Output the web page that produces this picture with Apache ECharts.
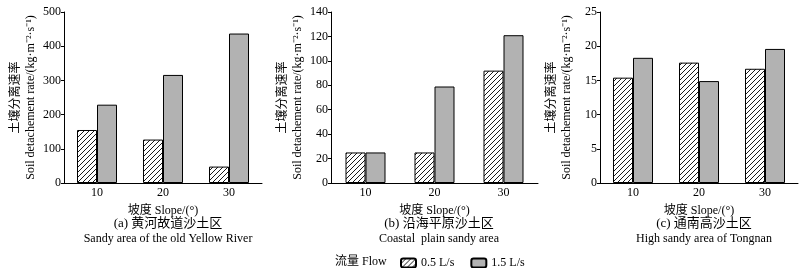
<!DOCTYPE html>
<html>
<head>
<meta charset="utf-8">
<script src="https://cdn.jsdelivr.net/npm/echarts@6/dist/echarts.min.js"></script>
<style>
  html, body { margin: 0; padding: 0; background: #fff; }
  #chart { width: 805px; height: 268px; }
</style>
</head>
<body>
<div id="chart"></div>
<script>
const slopes = ['10', '20', '30'];
const seriesNames = ['0.5 L/s', '1.5 L/s'];

// (a) 黄河故道沙土区
const yellowRiverLow = [155, 127, 48];
const yellowRiverHigh = [229, 316, 437];
// (b) 沿海平原沙土区
const coastalLow = [25, 25, 92];
const coastalHigh = [25, 79, 121];
// (c) 通南高沙土区
const tongnanLow = [15.4, 17.6, 16.7];
const tongnanHigh = [18.3, 14.9, 19.6];

const yMax = [500, 140, 25];
const yStep = [100, 20, 5];

const panelTitles = ['(a) 黄河故道沙土区', '(b) 沿海平原沙土区', '(c) 通南高沙土区'];
const panelSubtitles = ['Sandy area of the old Yellow River', 'Coastal  plain sandy area', 'High sandy area of Tongnan'];

const font = '"Liberation Serif", "Noto Sans CJK SC", serif';

// hatch pattern for 0.5 L/s
const hatch = document.createElement('canvas');
hatch.width = 5;
hatch.height = 5;
const hctx = hatch.getContext('2d');
hctx.fillStyle = '#fff';
hctx.fillRect(0, 0, 5, 5);
hctx.strokeStyle = '#000';
hctx.lineWidth = 0.9;
hctx.beginPath();
hctx.moveTo(-1, 6); hctx.lineTo(6, -1);
hctx.moveTo(-1, 1); hctx.lineTo(1, -1);
hctx.moveTo(4, 6); hctx.lineTo(6, 4);
hctx.stroke();

const grids = [
  { left: 64, right: 543, top: 12, bottom: 85 },
  { left: 331, right: 267, top: 12, bottom: 85 },
  { left: 600, right: 7, top: 12, bottom: 85 }
];
const centers = [163, 434, 699];
const lows = [yellowRiverLow, coastalLow, tongnanLow];
const highs = [yellowRiverHigh, coastalHigh, tongnanHigh];

const xAxes = grids.map((g, i) => ({
  type: 'category',
  gridIndex: i,
  data: slopes,
  axisLine: { lineStyle: { color: '#000', width: 1 } },
  axisTick: { show: false },
  axisLabel: { color: '#000', fontSize: 12, fontFamily: font, margin: 4 },
  name: '坡度 Slope/(°)',
  nameLocation: 'middle',
  nameGap: 22,
  nameTextStyle: { color: '#000', fontSize: 12, fontFamily: font }
}));

const yAxes = grids.map((g, i) => ({
  type: 'value',
  gridIndex: i,
  min: 0,
  max: yMax[i],
  interval: yStep[i],
  splitLine: { show: false },
  axisLine: { show: true, lineStyle: { color: '#000', width: 1 } },
  axisTick: { show: true, length: 3, lineStyle: { color: '#000' } },
  axisLabel: { color: '#000', fontSize: 12, fontFamily: font, margin: 3 },
  name: '土壤分离速率\nSoil detachement rate/(kg·m⁻²·s⁻¹)',
  nameLocation: 'middle',
  nameRotate: 90,
  nameGap: 26,
  nameTextStyle: { color: '#000', fontSize: 12, fontFamily: font, lineHeight: 15 }
}));

const series = [];
grids.forEach((g, i) => {
  series.push({
    name: seriesNames[0],
    type: 'bar',
    xAxisIndex: i,
    yAxisIndex: i,
    barWidth: 20,
    barGap: '0%',
    data: lows[i],
    itemStyle: { color: { image: hatch, repeat: 'repeat' }, borderColor: '#000', borderWidth: 1 }
  });
  series.push({
    name: seriesNames[1],
    type: 'bar',
    xAxisIndex: i,
    yAxisIndex: i,
    barWidth: 20,
    barGap: '0%',
    data: highs[i],
    itemStyle: { color: '#b2b2b2', borderColor: '#000', borderWidth: 1 }
  });
});

const titles = grids.map((g, i) => ({
  text: panelTitles[i],
  subtext: panelSubtitles[i],
  left: centers[i],
  top: 212,
  textAlign: 'center',
  itemGap: 3,
  textStyle: { color: '#000', fontSize: 13, fontWeight: 'normal', fontFamily: font },
  subtextStyle: { color: '#000', fontSize: 12, fontFamily: font }
}));
titles.push({
  text: '流量 Flow',
  left: 330,
  top: 251,
  textStyle: { color: '#000', fontSize: 12, fontWeight: 'normal', fontFamily: font }
});

const chart = echarts.init(document.getElementById('chart'));
chart.setOption({
  animation: false,
  backgroundColor: '#fff',
  title: titles,
  grid: grids,
  xAxis: xAxes,
  yAxis: yAxes,
  legend: {
    data: seriesNames,
    left: 395,
    top: 252,
    itemWidth: 15,
    itemHeight: 9,
    itemGap: 16,
    textStyle: { color: '#000', fontSize: 12, fontFamily: font }
  },
  series: series
});
</script>
</body>
</html>
